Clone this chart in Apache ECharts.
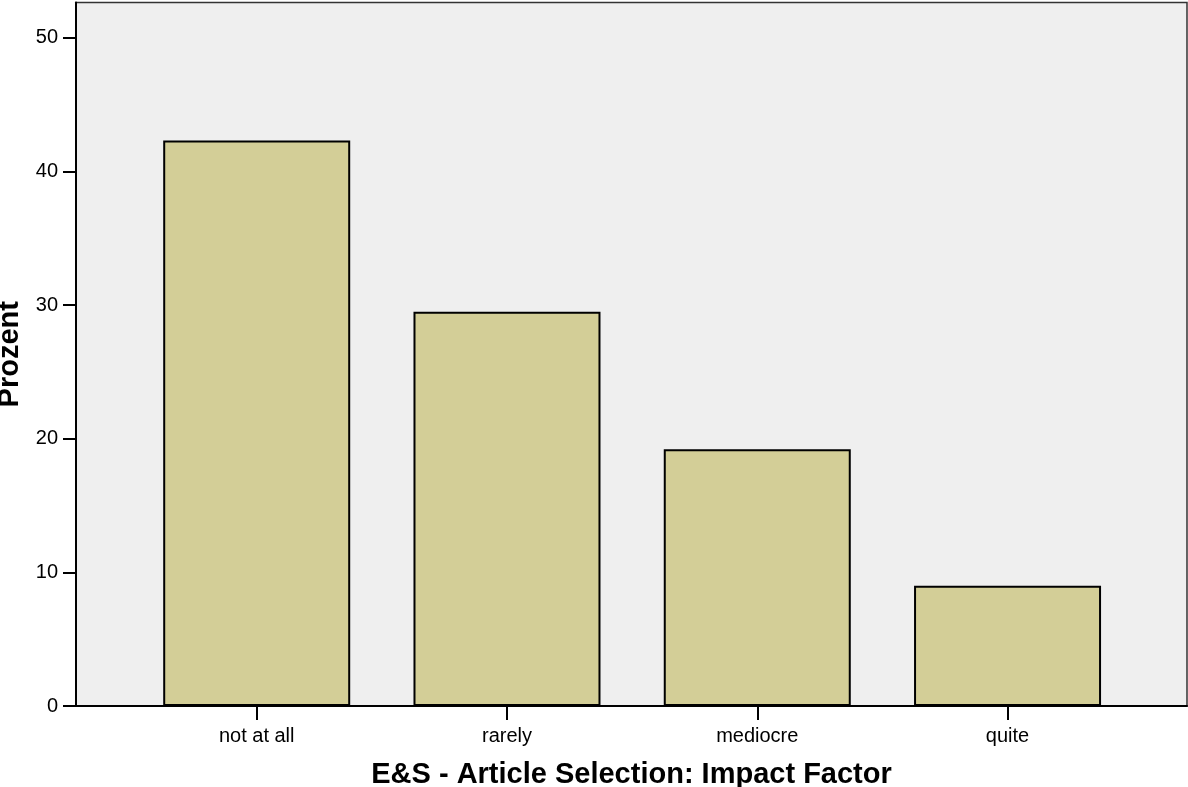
<!DOCTYPE html>
<html>
<head>
<meta charset="utf-8">
<script src="https://cdn.jsdelivr.net/npm/echarts@6/dist/echarts.min.js"></script>
<style>
html,body{margin:0;padding:0;background:#fff;}
#c{width:1188px;height:787px;}
</style>
</head>
<body>
<div id="c"></div>
<script>
const categories = ["not at all", "rarely", "mediocre", "quite"];
const percentValues = [42.3, 29.5, 19.2, 9.0];
const yTicks = [0, 10, 20, 30, 40, 50];

const chart = echarts.init(document.getElementById('c'), null, {renderer: 'canvas'});
const fontFam = '"Liberation Sans", Arial, sans-serif';
const positions = categories.map((_, i) => i);

chart.setOption({
  animation: false,
  grid: {
    left: 76, right: 1, top: 2.5, bottom: 81,
    outerBoundsMode: 'none',
    containLabel: false,
    show: true, backgroundColor: '#EFEFEF', borderColor: '#333', borderWidth: 1.5
  },
  xAxis: {
    type: 'value',
    min: -0.722, max: 3.717,
    name: 'E&S - Article Selection: Impact Factor',
    nameLocation: 'middle',
    nameGap: 54,
    nameTextStyle: {fontFamily: fontFam, fontSize: 29, fontWeight: 'bold', color: '#000'},
    splitLine: {show: false},
    axisLine: {show: true, onZero: false, lineStyle: {color: '#000', width: 2}},
    axisTick: {show: true, length: 14, customValues: positions, lineStyle: {color: '#000', width: 2}},
    axisLabel: {
      customValues: positions, margin: 20,
      fontFamily: fontFam, fontSize: 20, color: '#000',
      formatter: v => categories[Math.round(v)]
    }
  },
  yAxis: {
    type: 'value',
    min: 0, max: 52.63,
    name: 'Prozent',
    nameLocation: 'middle',
    nameGap: 45,
    nameTextStyle: {fontFamily: fontFam, fontSize: 29, fontWeight: 'bold', color: '#000'},
    splitLine: {show: false},
    axisLine: {show: true, onZero: false, lineStyle: {color: '#000', width: 2}},
    axisTick: {show: true, length: 13, customValues: yTicks, lineStyle: {color: '#000', width: 2}},
    axisLabel: {
      customValues: yTicks, margin: 18,
      fontFamily: fontFam, fontSize: 20, color: '#000'
    }
  },
  series: [{
    type: 'bar',
    data: percentValues.map((v, i) => [positions[i], v]),
    barWidth: 187,
    itemStyle: {color: '#D3CE97', borderColor: '#000', borderWidth: 2}
  }]
});
</script>
</body>
</html>
